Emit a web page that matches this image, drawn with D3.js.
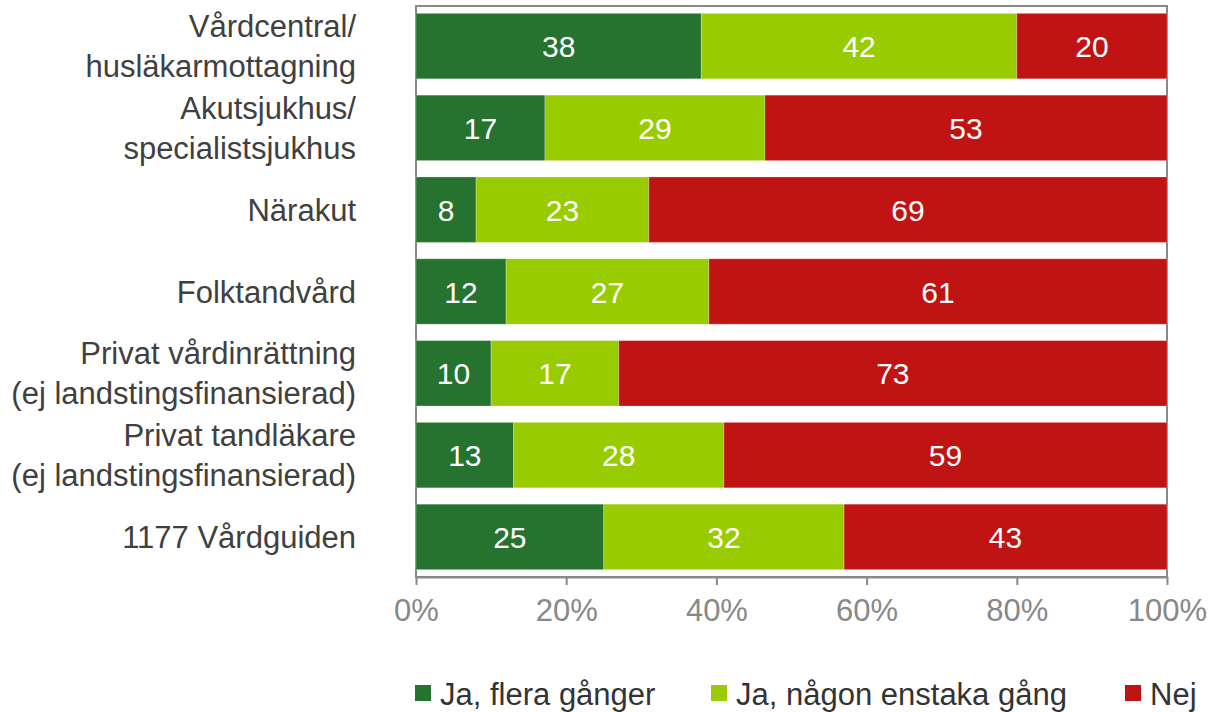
<!DOCTYPE html>
<html>
<head>
<meta charset="utf-8">
<script src="https://cdn.jsdelivr.net/npm/d3@7"></script>
<style>
  html, body { margin: 0; padding: 0; background: #fff; }
  svg { display: block; font-family: "Liberation Sans", Arial, sans-serif; }
</style>
</head>
<body>
<svg id="chart" width="1215" height="712"></svg>
<script>
// ---- data ----
const categories = [
  ["Vårdcentral/", "husläkarmottagning"],
  ["Akutsjukhus/", "specialistsjukhus"],
  ["Närakut"],
  ["Folktandvård"],
  ["Privat vårdinrättning", "(ej landstingsfinansierad)"],
  ["Privat tandläkare", "(ej landstingsfinansierad)"],
  ["1177 Vårdguiden"]
];
const seriesNames = ["Ja, flera gånger", "Ja, någon enstaka gång", "Nej"];
const flera   = [38, 17, 8, 12, 10, 13, 25];
const enstaka = [42, 29, 23, 27, 17, 28, 32];
const nej     = [20, 53, 69, 61, 73, 59, 43];
const tickValues = [0, 20, 40, 60, 80, 100];
const colors = ["#267330", "#99CC00", "#C01414"];

// ---- layout ----
const svg = d3.select("#chart");
const pLeft = 416, pRight = 1167, pTop = 6, pBottom = 577;

const x = d3.scaleLinear().domain([0, 100]).range([pLeft, pRight]);
const y = d3.scaleBand().domain(d3.range(categories.length))
  .range([pTop, pBottom]).paddingInner(0.2).paddingOuter(0.09);

const rows = categories.map((c, i) => {
  const vals = [flera[i], enstaka[i], nej[i]];
  const sum = d3.sum(vals);
  let acc = 0;
  return vals.map((v, k) => {
    const x0 = acc / sum * 100;
    acc += v;
    return { i, k, v, x0, x1: acc / sum * 100 };
  });
});

// frame
svg.append("rect")
  .attr("x", pLeft).attr("y", pTop)
  .attr("width", pRight - pLeft).attr("height", pBottom - pTop)
  .attr("fill", "none").attr("stroke", "#888").attr("stroke-width", 2);

// bars
const g = svg.append("g");
rows.forEach(r => {
  g.selectAll(null).data(r).enter().append("rect")
    .attr("x", d => x(d.x0))
    .attr("y", d => y(d.i))
    .attr("width", d => x(d.x1) - x(d.x0))
    .attr("height", y.bandwidth())
    .attr("fill", d => colors[d.k])
    .attr("stroke", "rgba(255,255,255,0.25)")
    .attr("stroke-width", 1);
  g.selectAll(null).data(r).enter().append("text")
    .attr("x", d => (x(d.x0) + x(d.x1)) / 2)
    .attr("y", d => y(d.i) + y.bandwidth() / 2 + 11)
    .attr("text-anchor", "middle")
    .attr("fill", "#fff")
    .attr("font-size", 30)
    .text(d => d.v);
});

// x axis
const xAxis = d3.axisBottom(x).tickValues(tickValues)
  .tickFormat(d => d + "%").tickSizeOuter(0).tickSizeInner(8).tickPadding(14);
const ax = svg.append("g").attr("transform", `translate(0,${pBottom})`).call(xAxis);
ax.select(".domain").attr("stroke", "#888").attr("stroke-width", 2);
ax.selectAll(".tick line").attr("stroke", "#888").attr("stroke-width", 2);
ax.selectAll(".tick text").attr("fill", "#888").attr("font-size", 31)
  .attr("font-family", "Liberation Sans, Arial, sans-serif");

// category labels
categories.forEach((lines, i) => {
  const cy = y(i) + y.bandwidth() / 2;
  const lh = 40;
  const t = svg.append("text")
    .attr("text-anchor", "end")
    .attr("fill", "#404040")
    .attr("font-size", 31);
  lines.forEach((ln, j) => {
    t.append("tspan")
      .attr("x", 356)
      .attr("y", cy + 11 + (j - (lines.length - 1) / 2) * lh)
      .text(ln);
  });
});

// legend
const legendX = [415, 711, 1125];
seriesNames.forEach((name, k) => {
  svg.append("rect")
    .attr("x", legendX[k]).attr("y", 685)
    .attr("width", 16).attr("height", 16)
    .attr("fill", colors[k]);
  svg.append("text")
    .attr("x", legendX[k] + 25).attr("y", 705)
    .attr("font-size", 31)
    .attr("fill", "#333")
    .text(name);
});
</script>
</body>
</html>
